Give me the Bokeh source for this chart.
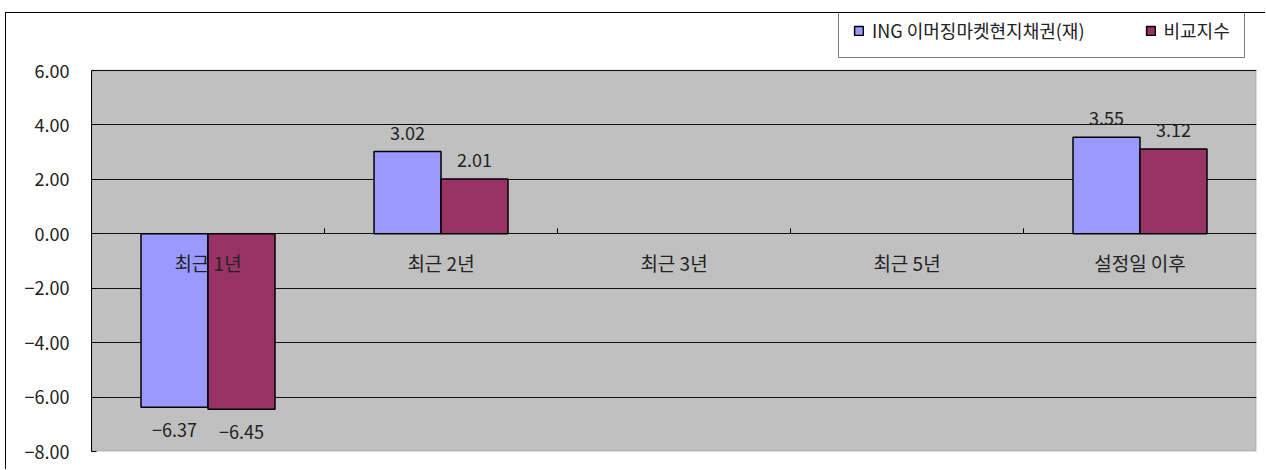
from bokeh.plotting import figure
from bokeh.models import (ColumnDataSource, Range1d, Legend, LegendItem,
                          CustomJSTickFormatter, FixedTicker, BoxAnnotation)
from bokeh.core.properties import value
from bokeh.embed import file_html
from bokeh.resources import INLINE

# ---- data ----
categories = ["최근 1년", "최근 2년", "최근 3년", "최근 5년", "설정일 이후"]
series_names = ["ING 이머징마켓현지채권(재)", "비교지수"]
fund = [-6.37, 3.02, None, None, 3.55]
bench = [-6.45, 2.01, None, None, 3.12]
y_ticks = [-8, -6, -4, -2, 0, 2, 4, 6]

FONT = "Noto Sans CJK KR"
C1 = "#9999FF"
C2 = "#993366"
BAR_W = 0.2875
TXT = "#222222"

# layout geometry (pixels)
W, H = 1260, 457
FRAME_LEFT, FRAME_RIGHT_PAD, FRAME_BOTTOM_PAD = 85, 10, 19
FRAME_H = H - FRAME_BOTTOM_PAD          # frame spans from canvas top
DATA_TOP_PX = 57                        # where y=6 sits inside frame
DATA_H = FRAME_H - DATA_TOP_PX
y_lo, y_hi = y_ticks[0], y_ticks[-1]
Y_TOP = y_hi + DATA_TOP_PX * (y_hi - y_lo) / DATA_H

centers = [i + 0.5 for i in range(len(categories))]
nan = float("nan")

def clean(v):
    return [nan if x is None else x for x in v]

src = ColumnDataSource(dict(
    x1=[c - BAR_W / 2 for c in centers], x2=[c + BAR_W / 2 for c in centers],
    fund=clean(fund), bench=clean(bench)))

p = figure(width=W, height=H, x_range=Range1d(0, len(categories)),
           y_range=Range1d(y_lo, Y_TOP),
           output_backend="svg", toolbar_location=None,
           min_border_left=FRAME_LEFT, min_border_right=FRAME_RIGHT_PAD,
           min_border_top=0, min_border_bottom=FRAME_BOTTOM_PAD)
p.margin = (13, 0, 0, 6)
p.styles = {"box-shadow": "-1px -1px 0 0 #000000"}

p.background_fill_color = "white"
p.border_fill_color = "white"
p.outline_line_color = None
p.xaxis.visible = False
p.xgrid.visible = False
p.ygrid.ticker = FixedTicker(ticks=y_ticks)
p.ygrid.grid_line_color = "#111111"
p.ygrid.grid_line_width = 1

# gray plot area with its gray border, drawn beneath the grid
p.add_layout(BoxAnnotation(left=0, right=len(categories), bottom=y_lo,
                           top=y_hi, fill_color="#C0C0C0", fill_alpha=1,
                           line_color="#808080", line_width=2, level="image"))

ya = p.yaxis[0]
ya.ticker = FixedTicker(ticks=y_ticks)
ya.bounds = (y_lo, y_hi)
ya.formatter = CustomJSTickFormatter(
    code="return (tick < 0 ? '\u2212' : '') + Math.abs(tick).toFixed(2);")
ya.axis_line_color = "black"
ya.axis_line_width = 1
ya.major_tick_in = 5
ya.major_tick_out = 0
ya.major_tick_line_color = "black"
ya.minor_tick_line_color = None
ya.major_label_text_font = FONT
ya.major_label_text_font_size = "18px"
ya.major_label_text_color = TXT
ya.major_label_standoff = 22

r1 = p.vbar(x="x1", top="fund", bottom=0, width=BAR_W, source=src,
            fill_color=C1, line_color="black", line_width=1.5)
r2 = p.vbar(x="x2", top="bench", bottom=0, width=BAR_W, source=src,
            fill_color=C2, line_color="black", line_width=1.5)

# category tick marks on the zero line (between categories)
bounds = list(range(1, len(categories)))
p.segment(x0=bounds, x1=bounds, y0=[0] * len(bounds), y1=[0.2] * len(bounds),
          line_color="black", line_width=1)

# category labels below the zero line
p.text(x=centers, y=[0] * len(categories), text=categories, y_offset=29,
       text_align="center", text_baseline="middle",
       text_font=value(FONT), text_font_size="19px", text_color=TXT)

# value labels
def fmt(v):
    return ("\u2212" if v < 0 else "") + "%.2f" % abs(v)

lx, ly, lt, lo = [], [], [], []
for vals, off in ((fund, -BAR_W / 2), (bench, BAR_W / 2)):
    for c, v in zip(centers, vals):
        if v is None:
            continue
        lx.append(c + off)
        ly.append(v)
        lt.append(fmt(v))
        lo.append(-19 if v > 0 else 23)
lsrc = ColumnDataSource(dict(x=lx, y=ly, t=lt, o=lo))
p.text(x="x", y="y", text="t", y_offset="o", source=lsrc,
       text_align="center", text_baseline="middle",
       text_font=value(FONT), text_font_size="18px", text_color=TXT)

legend = Legend(items=[LegendItem(label=series_names[0], renderers=[r1]),
                       LegendItem(label=series_names[1], renderers=[r2])],
                orientation="horizontal", location=(747, FRAME_H - 45),
                border_line_color="black", border_line_width=1,
                background_fill_color="white", background_fill_alpha=1,
                glyph_width=11, glyph_height=11, label_standoff=8,
                spacing=60, padding=12, margin=0,
                label_text_font=FONT, label_text_font_size="18px",
                label_text_color=TXT)
legend.padding = 14
p.add_layout(legend, "center")

open("out.html", "w").write(file_html(p, INLINE))
